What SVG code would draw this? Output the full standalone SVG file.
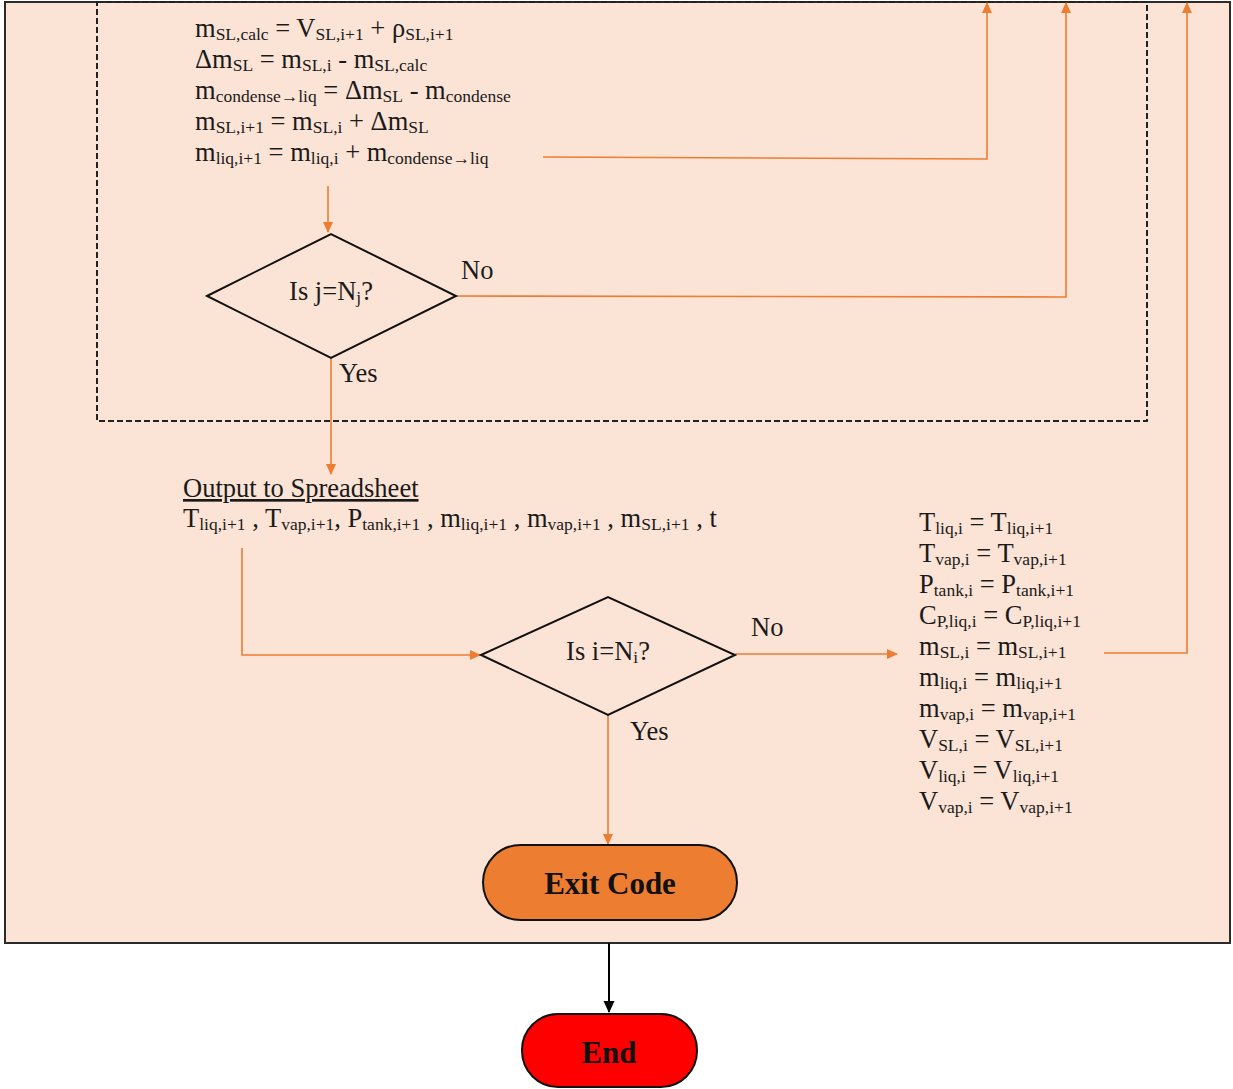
<svg xmlns="http://www.w3.org/2000/svg" width="1233" height="1089" viewBox="0 0 1233 1089">
<style>
.t{font-family:"Liberation Serif","Times New Roman",serif;font-size:26.5px;fill:#1a1a1a}
.s{font-size:17.5px}
.o{stroke:#ED7D31;stroke-width:1.6;fill:none}
.b{font-family:"Liberation Serif","Times New Roman",serif;font-size:31px;font-weight:bold;fill:#111;text-anchor:middle}
</style>
<defs>
<marker id="ao" markerWidth="11" markerHeight="11" refX="10" refY="5.5" orient="auto" markerUnits="userSpaceOnUse" viewBox="0 0 11 11"><path d="M0,0.5 L11,5.5 L0,10.5 z" fill="#ED7D31"/></marker>
<marker id="ak" markerWidth="12" markerHeight="12" refX="11" refY="6" orient="auto" markerUnits="userSpaceOnUse" viewBox="0 0 12 12"><path d="M0,0.5 L12,6 L0,11.5 z" fill="#000"/></marker>
</defs>
<rect x="0" y="0" width="1233" height="1089" fill="#fff"/>
<g id="outer"><rect x="5" y="2" width="1225" height="941" fill="#FBE3D6" stroke="#2b2b2b" stroke-width="2"/></g>
<g id="inner-loop"><rect x="97" y="2" width="1050" height="419" fill="none" stroke="#222" stroke-width="2" stroke-dasharray="6,3"/></g>

<g id="connectors">
<line class="o" x1="328" y1="186" x2="328" y2="232" marker-end="url(#ao)"/>
<polyline class="o" points="543,157 987,159 987,3" marker-end="url(#ao)"/>
<polyline class="o" points="456,296 1066,297 1066,3" marker-end="url(#ao)"/>
<line class="o" x1="331" y1="358" x2="331" y2="474" marker-end="url(#ao)"/>
<polyline class="o" points="242,548 242,655 480,655" marker-end="url(#ao)"/>
<line class="o" x1="735" y1="654" x2="897" y2="654" marker-end="url(#ao)"/>
<polyline class="o" points="1104,653 1187,653 1187,3" marker-end="url(#ao)"/>
<line class="o" x1="608" y1="715" x2="608" y2="844" marker-end="url(#ao)"/>
<line x1="609" y1="943" x2="609" y2="1012" stroke="#000" stroke-width="2" marker-end="url(#ak)"/>
</g>

<g id="calc-equations">
<text class="t" x="195" y="37">m<tspan class="s" dy="3">SL,calc</tspan><tspan dy="-3"> = V</tspan><tspan class="s" dy="3">SL,i+1</tspan><tspan dy="-3"> + ρ</tspan><tspan class="s" dy="3">SL,i+1</tspan></text>
<text class="t" x="195" y="68">Δm<tspan class="s" dy="3">SL</tspan><tspan dy="-3"> = m</tspan><tspan class="s" dy="3">SL,i</tspan><tspan dy="-3"> - m</tspan><tspan class="s" dy="3">SL,calc</tspan></text>
<text class="t" x="195" y="99">m<tspan class="s" dy="3">condense→liq</tspan><tspan dy="-3"> = Δm</tspan><tspan class="s" dy="3">SL</tspan><tspan dy="-3"> - m</tspan><tspan class="s" dy="3">condense</tspan></text>
<text class="t" x="195" y="130">m<tspan class="s" dy="3">SL,i+1</tspan><tspan dy="-3"> = m</tspan><tspan class="s" dy="3">SL,i</tspan><tspan dy="-3"> + Δm</tspan><tspan class="s" dy="3">SL</tspan></text>
<text class="t" x="195" y="161">m<tspan class="s" dy="3">liq,i+1</tspan><tspan dy="-3"> = m</tspan><tspan class="s" dy="3">liq,i</tspan><tspan dy="-3"> + m</tspan><tspan class="s" dy="3">condense→liq</tspan></text>
</g>

<g id="decision-j">
<polygon points="207,296 331,234 456,296 331,358" fill="none" stroke="#111" stroke-width="2"/>
<text class="t" x="331" y="300" text-anchor="middle">Is j=N<tspan class="s" dy="3">j</tspan><tspan dy="-3">?</tspan></text>
<text class="t" x="461" y="279">No</text>
<text class="t" x="339" y="382">Yes</text>
</g>

<g id="output">
<text class="t" x="183" y="497" text-decoration="underline">Output to Spreadsheet</text>
<text class="t" x="183" y="527">T<tspan class="s" dy="3">liq,i+1</tspan><tspan dy="-3"> , T</tspan><tspan class="s" dy="3">vap,i+1</tspan><tspan dy="-3">, P</tspan><tspan class="s" dy="3">tank,i+1</tspan><tspan dy="-3"> , m</tspan><tspan class="s" dy="3">liq,i+1</tspan><tspan dy="-3"> , m</tspan><tspan class="s" dy="3">vap,i+1</tspan><tspan dy="-3">  , m</tspan><tspan class="s" dy="3">SL,i+1</tspan><tspan dy="-3"> , t</tspan></text>
</g>

<g id="decision-i">
<polygon points="481,655 608,597 735,655 608,715" fill="none" stroke="#111" stroke-width="2"/>
<text class="t" x="608" y="660" text-anchor="middle">Is i=N<tspan class="s" dy="3">i</tspan><tspan dy="-3">?</tspan></text>
<text class="t" x="751" y="636">No</text>
<text class="t" x="630" y="740">Yes</text>
</g>

<g id="update-equations">
<text class="t" x="919" y="531">T<tspan class="s" dy="3">liq,i</tspan><tspan dy="-3"> = T</tspan><tspan class="s" dy="3">liq,i+1</tspan></text>
<text class="t" x="919" y="562">T<tspan class="s" dy="3">vap,i</tspan><tspan dy="-3"> = T</tspan><tspan class="s" dy="3">vap,i+1</tspan></text>
<text class="t" x="919" y="593">P<tspan class="s" dy="3">tank,i</tspan><tspan dy="-3"> = P</tspan><tspan class="s" dy="3">tank,i+1</tspan></text>
<text class="t" x="919" y="624">C<tspan class="s" dy="3">P,liq,i</tspan><tspan dy="-3"> = C</tspan><tspan class="s" dy="3">P,liq,i+1</tspan></text>
<text class="t" x="919" y="655">m<tspan class="s" dy="3">SL,i</tspan><tspan dy="-3"> = m</tspan><tspan class="s" dy="3">SL,i+1</tspan></text>
<text class="t" x="919" y="686">m<tspan class="s" dy="3">liq,i</tspan><tspan dy="-3"> = m</tspan><tspan class="s" dy="3">liq,i+1</tspan></text>
<text class="t" x="919" y="717">m<tspan class="s" dy="3">vap,i</tspan><tspan dy="-3"> = m</tspan><tspan class="s" dy="3">vap,i+1</tspan></text>
<text class="t" x="919" y="748">V<tspan class="s" dy="3">SL,i</tspan><tspan dy="-3"> = V</tspan><tspan class="s" dy="3">SL,i+1</tspan></text>
<text class="t" x="919" y="779">V<tspan class="s" dy="3">liq,i</tspan><tspan dy="-3"> = V</tspan><tspan class="s" dy="3">liq,i+1</tspan></text>
<text class="t" x="919" y="810">V<tspan class="s" dy="3">vap,i</tspan><tspan dy="-3"> = V</tspan><tspan class="s" dy="3">vap,i+1</tspan></text>
</g>

<g id="exit-code">
<rect x="483" y="845" width="254" height="75" rx="37.5" fill="#ED7D31" stroke="#111" stroke-width="2"/>
<text class="b" x="610" y="894">Exit Code</text>
</g>

<g id="end">
<rect x="522" y="1014" width="175" height="73" rx="36" fill="#FF0000" stroke="#111" stroke-width="2"/>
<text class="b" x="609" y="1063">End</text>
</g>
</svg>
